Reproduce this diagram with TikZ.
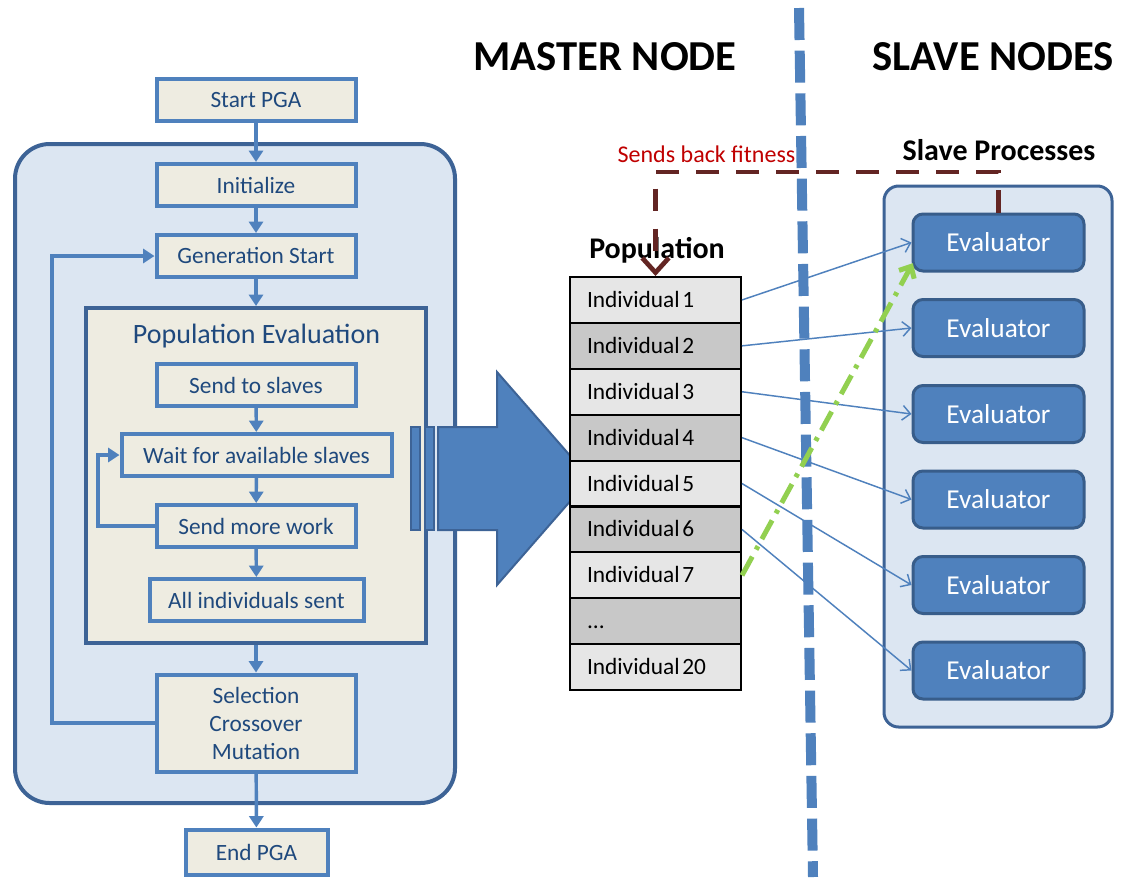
\documentclass[tikz,border=0pt]{standalone}
\usepackage{fontspec}
\setmainfont{Carlito}
\usetikzlibrary{arrows.meta}
\definecolor{boxfill}{HTML}{EEECE1}
\definecolor{boxline}{HTML}{4F81BD}
\definecolor{darkline}{HTML}{3D6396}
\definecolor{panel}{HTML}{DCE6F2}
\definecolor{navytext}{HTML}{1F497D}
\definecolor{evalline}{HTML}{385D8A}
\definecolor{rowlight}{HTML}{E6E6E6}
\definecolor{rowdark}{HTML}{C8C8C8}
\definecolor{fitness}{HTML}{632523}
\definecolor{fitnesstext}{HTML}{C00000}
\definecolor{greenpath}{HTML}{92D050}
\newcommand\indiv[1]{Individual\kern2pt#1}
\begin{document}
\begin{tikzpicture}[x=0.75pt,y=-0.75pt,
  stepbox/.style={draw=boxline, fill=boxfill, line width=3pt,
    minimum width=149.25pt, minimum height=31.5pt, inner sep=0pt,
    text=navytext, font=\fontsize{17.5}{21}\selectfont, align=center},
  flow/.style={draw=boxline, line width=2.6pt, -{Triangle[length=8.5pt,width=10.5pt]}},
  poprow/.style={draw=black, line width=1.5pt, minimum height=34.4pt,
    text width=102.75pt, inner xsep=12.75pt, inner ysep=0pt, align=left,
    text height=11.3pt, text depth=0pt, font=\fontsize{17.5}{21}\selectfont},
  lightrow/.style={poprow, fill=rowlight},
  darkrow/.style={poprow, fill=rowdark},
  evalbox/.style={draw=evalline, fill=boxline, line width=2.25pt, rounded corners=7.5pt,
    minimum width=128.25pt, minimum height=42.75pt, inner sep=0pt, text=white,
    font=\fontsize{20.5}{24}\selectfont},
  dispatch/.style={draw=boxline, line width=1.1pt, -{Straight Barb[length=6pt,width=11pt,line width=1.1pt]}},
  heading/.style={font=\bfseries\fontsize{32}{38}\selectfont, inner sep=0pt, anchor=base},
  sublabel/.style={font=\bfseries\fontsize{22.5}{27}\selectfont, inner sep=0pt, anchor=base},
]
\useasboundingbox (0,0) rectangle (1124,879);
\fill[white] (0,0) rectangle (1124,879);

% ---- master flowchart ----
\node[draw=darkline, fill=panel, line width=3pt, rounded corners=26pt,
      minimum width=330pt, minimum height=494.25pt] (master) at (235,473.5) {};
\node[draw=darkline, fill=boxfill, line width=3pt,
      minimum width=255pt, minimum height=251.25pt] (pe) at (256,475.5) {};
\node[text=navytext, font=\fontsize{21}{25}\selectfont, inner sep=0pt, anchor=base]
      (petitle) at (256.5,343) {Population Evaluation};

\node[stepbox] (start) at (256,100) {Start PGA};
\node[stepbox] (init)  at (256,185) {Initialize};
\node[stepbox] (gen)   at (256,256) {Generation Start};
\node[stepbox] (send)  at (256,385) {Send to slaves};
\node[stepbox, minimum width=202.5pt] (wait) at (256.5,455) {Wait for available slaves};
\node[stepbox] (more)  at (256,526) {Send more work};
\node[stepbox, minimum width=160.5pt] (all) at (256.5,600) {All individuals sent};
\node[stepbox, minimum height=72.75pt] (sel) at (256,723) {Selection\\Crossover\\Mutation};
\node[stepbox, minimum width=106.5pt, minimum height=33.75pt] (endp) at (256.5,852) {End PGA};

\coordinate (loopL) at (52,723);
\coordinate (innL) at (98,526);

\draw[flow] (start) -- (init);
\draw[flow] (init) -- (gen);
\draw[flow] (gen) -- (pe.north);
\draw[flow] (send) -- (wait);
\draw[flow] (wait) -- (more);
\draw[flow] (more) -- (all);
\draw[flow] (pe.south) -- (sel);
\draw[flow] (sel) -- (endp);
\draw[flow] (sel.west) -- (loopL) |- (gen.west);
\draw[flow] (more.west) -- (innL) |- (wait.west);

% ---- striped block arrow towards the population ----
\filldraw[fill=boxline, draw=darkline, line width=1.5pt]
  (438,427) -- (497,427) -- (497,372) -- (590,478.5) -- (497,585) -- (497,530) -- (438,530) -- cycle;
\filldraw[fill=boxline, draw=darkline, line width=1.5pt] (411,427) rectangle (420,530);
\filldraw[fill=boxline, draw=darkline, line width=1.5pt] (425,427) rectangle (434,530);

% ---- master / slave divider ----
\draw[boxline, line width=7.5pt, dash pattern=on 24pt off 8pt] (799,8) -- (813,877);

\node[heading] (mhead) at (605,70) {MASTER NODE};
\node[heading] (shead) at (993,70) {SLAVE NODES};

% ---- slave processes ----
\node[draw=darkline, fill=panel, line width=2.25pt, rounded corners=11pt,
      minimum width=171pt, minimum height=405.75pt] (slaves) at (998,456.5) {};
\node[sublabel] (slabel) at (999,160) {Slave Processes};
\node[evalbox] (ev1) at (998.5,242.5) {Evaluator};
\node[evalbox] (ev2) at (998.5,328)   {Evaluator};
\node[evalbox] (ev3) at (998.5,414)   {Evaluator};
\node[evalbox] (ev4) at (998.5,499.5) {Evaluator};
\node[evalbox] (ev5) at (998.5,585)   {Evaluator};
\node[evalbox] (ev6) at (998.5,670.5) {Evaluator};

% ---- population table ----
\node[sublabel] (plabel) at (657,258) {Population};
\node[lightrow] (row1) at (655.5,299.95) {\indiv{1}};
\node[darkrow]  (row2) at (655.5,345.85) {\indiv{2}};
\node[lightrow] (row3) at (655.5,391.75) {\indiv{3}};
\node[darkrow]  (row4) at (655.5,437.65) {\indiv{4}};
\node[lightrow] (row5) at (655.5,483.55) {\indiv{5}};
\node[darkrow]  (row6) at (655.5,529.45) {\indiv{6}};
\node[lightrow] (row7) at (655.5,575.35) {\indiv{7}};
\node[darkrow]  (row8) at (655.5,621.25) {...};
\node[lightrow] (row9) at (655.5,667.15) {\indiv{20}};

% ---- work dispatched to evaluators ----
\draw[dispatch] (row1.east) -- (ev1.west);
\draw[dispatch] (row2.east) -- (ev2.west);
\draw[dispatch] (row3.east) -- (ev3.west);
\draw[dispatch] (row4.east) -- (ev4.west);
\draw[dispatch] (row5.east) -- (ev5.west);
\draw[dispatch] (row6.east) -- (ev6.west);

% ---- fitness returned to the master ----
\coordinate (fbTop) at (800,172);
\node[text=fitnesstext, font=\fontsize{18}{22}\selectfont, inner sep=0pt, anchor=base]
      (fblabel) at (706.5,162) {Sends back fitness};
\draw[fitness, line width=3.5pt, dash pattern=on 17pt off 13pt,
      -{Straight Barb[length=11pt,width=20pt,line width=3.5pt]}]
  (ev1.north) |- (fbTop) -| (row1.north);

% ---- individual 7 waiting for a free evaluator ----
\draw[greenpath, line width=3.75pt, dash pattern=on 16pt off 6pt on 3pt off 6pt,
      -{Straight Barb[length=7pt,width=13pt,line width=3.75pt]}]
  (row7.east) -- ([shift={(1pt,7pt)}]ev1.south west);
\end{tikzpicture}
\end{document}
